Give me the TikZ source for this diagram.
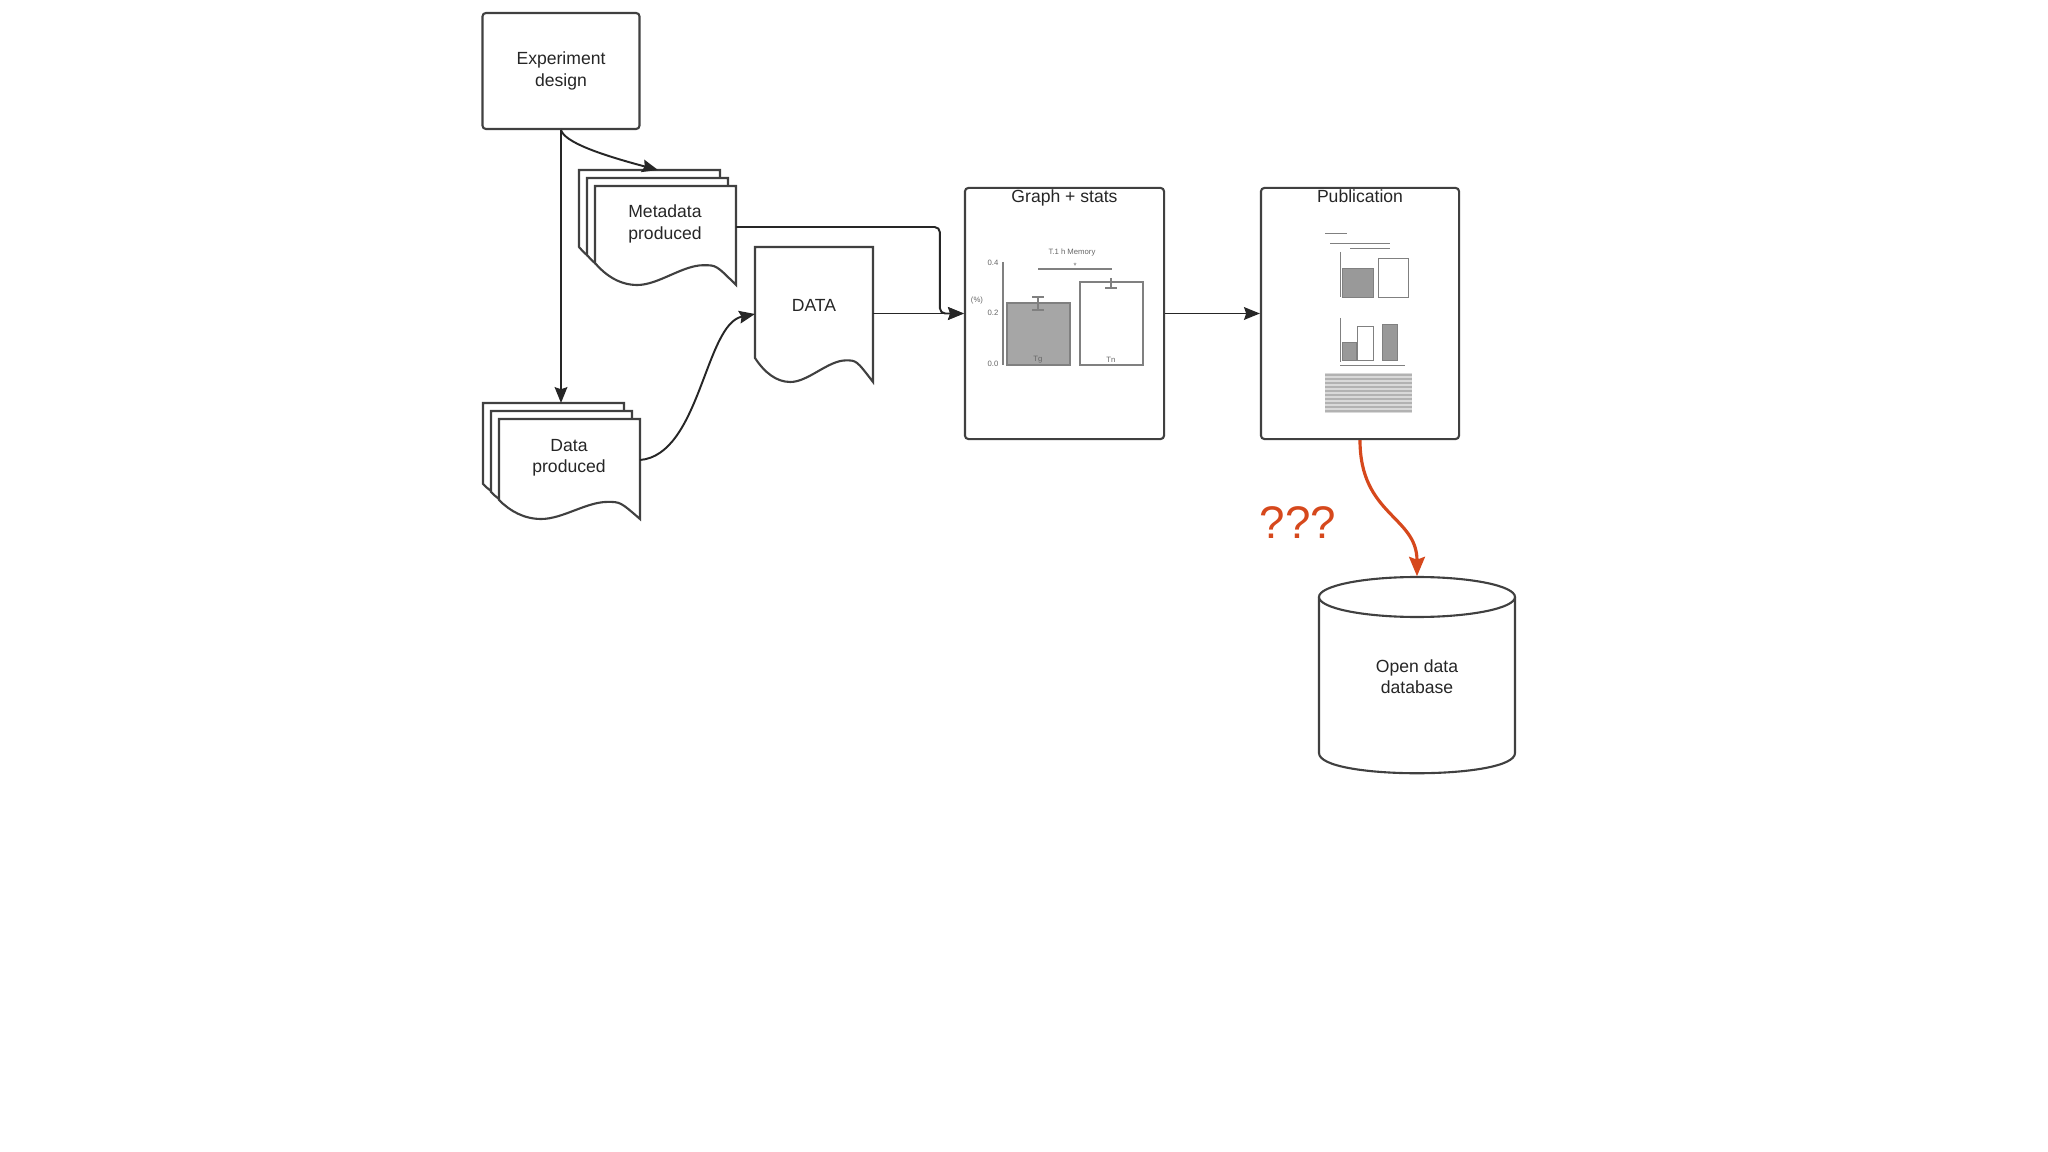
\documentclass[tikz,border=0pt]{standalone}
\usepackage{fontspec}
\setmainfont{Liberation Sans}
\usepackage{xcolor}
\usepackage{tikz}
\usetikzlibrary{arrows.meta}

\definecolor{oddred}{RGB}{214,72,28}

% document sheet with a wavy lower edge: x, y (top left), width, left height, wave depth
\newcommand{\docshape}[5]{%
  \draw[docline] ({#1},{#2}) -- ({#1+#3},{#2}) -- ({#1+#3},{#2+#4+#5})
    .. controls ({#1+0.86*#3},{#2+#4+0.1*#5}) .. ({#1+0.77*#3},{#2+#4+0.1*#5})
    .. controls ({#1+0.62*#3},{#2+#4+0.1*#5}) and ({#1+0.45*#3},{#2+#4+#5}) .. ({#1+0.3*#3},{#2+#4+#5})
    .. controls ({#1+0.18*#3},{#2+#4+#5}) and ({#1+0.08*#3},{#2+#4+0.6*#5}) .. ({#1},{#2+#4}) -- cycle;}

\tikzset{
  box/.style={draw=black!75, line width=0.6pt, rounded corners=1pt, fill=white},
  docline/.style={draw=black!75, line width=0.6pt, fill=white},
  lbl/.style={align=center, font=\fontsize{5}{6}\selectfont, text=black!85, inner sep=0.5pt},
  conn/.style={draw=black!85, line width=0.55pt, -{Stealth[length=4.5pt, width=3.6pt, inset=0.6pt]}},
  redconn/.style={draw=oddred, line width=0.9pt, -{Stealth[length=5.5pt, width=4.5pt, inset=0.8pt]}},
  tinytext/.style={font=\fontsize{2.2}{2.6}\selectfont, text=black!60, inner sep=0pt},
  plot/.style={draw=black!50, line width=0.3pt},
}

\begin{document}
\begin{tikzpicture}[x=0.01cm, y=-0.01cm]
        \useasboundingbox (0,0) rectangle (2048,1152);
        \fill[white] (0,0) rectangle (2048,1152);

        % boxes
        \node[box, lbl, minimum width=1.57cm, minimum height=1.16cm] (exp) at (561,71) {Experiment\\design};
        \node[box, minimum width=1.99cm, minimum height=2.51cm] (graph) at (1064.5,313.5) {};
        \node[box, minimum width=1.98cm, minimum height=2.51cm] (pub) at (1360,313.5) {};
        \node[lbl, anchor=north] (graphtitle) at (graph.north) {Graph + stats};
        \node[lbl, anchor=north] (pubtitle) at (pub.north) {Publication};

        % document stacks
        \foreach \o in {16,8,0} {\docshape{595-\o}{186-\o}{141}{77}{22}}
        \node[lbl] (meta) at (665,224) {Metadata\\produced};
        \coordinate (metatop) at (658,170);
        \coordinate (metaright) at (736,227);

        \docshape{755}{247}{118}{111}{24}
        \node[lbl] (data) at (814,305) {DATA};
        \coordinate (datain) at (755,314);
        \coordinate (dataout) at (873,313.5);

        \foreach \o in {16,8,0} {\docshape{499-\o}{419-\o}{141}{81}{19}}
        \node[lbl] (dprod) at (569,458) {Data\\produced};
        \coordinate (dprodtop) at (561,403);
        \coordinate (dprodright) at (640,460);

        % database
        \draw[docline] (1319,597) -- (1319,753) .. controls (1319,780) and (1515,780) .. (1515,753) -- (1515,597);
        \draw[docline] (1417,597) ellipse [x radius=98, y radius=20];
        \node[lbl, minimum width=1.96cm, minimum height=2cm] (db) at (1417,677) {Open data\\database};

        % chart in graph box
        \draw[plot] (1003,262) -- (1003,365);
        \foreach \yy/\tl in {263/0.4, 313/0.2, 364/0.0} \node[tinytext, anchor=east] at (999,\yy) {\tl};
        \node[tinytext] at (977,301) {(\%)};
        \draw[plot, fill=black!35] (1007,303) rectangle (1070,365);
        \draw[plot] (1080,282) rectangle (1143,365);
        \draw[plot] (1038,297) -- (1038,310) (1032,297) -- (1044,297) (1032,310) -- (1044,310);
        \draw[plot] (1111,278) -- (1111,288) (1105,288) -- (1117,288);
        \draw[plot] (1038,269) -- (1112,269);
        \node[tinytext] at (1075,266) {*};
        \node[tinytext] at (1072,253) {T.1 h Memory};
        \node[tinytext] at (1038,360) {Tg};
        \node[tinytext] at (1111,360) {Tn};

        % page thumbnail in publication box
        \draw[plot, line width=0.2pt] (1325,233) -- (1347,233) (1330,243) -- (1390,243) (1350,248) -- (1390,248);
        \draw[plot, line width=0.2pt] (1340,252) -- (1340,297) (1340,318) -- (1340,362) (1340,365) -- (1405,365);
        \draw[plot, line width=0.2pt, fill=black!40] (1342,268) rectangle (1373,297);
        \draw[plot, line width=0.2pt] (1378,258) rectangle (1408,297);
        \draw[plot, line width=0.2pt, fill=black!40] (1342,342) rectangle (1356,360);
        \draw[plot, line width=0.2pt] (1357,326) rectangle (1373,360);
        \draw[plot, line width=0.2pt, fill=black!40] (1382,324) rectangle (1397,360);
        \fill[black!15] (1325,373) rectangle (1412,413);
        \foreach \ty in {375,379,...,411} \draw[black!30, line width=0.4pt] (1325,\ty) -- (1412,\ty);

        % connectors
        \draw[conn] (exp.south) -- (dprodtop);
        \draw[conn] (exp.south) .. controls +(4,12) and +(-60,-16) .. (metatop);
        \draw[conn, rounded corners=1.5pt] (metaright) -| ([xshift=-0.24cm]graph.west) -- (graph.west);
        \draw[conn] (dataout) -- (graph.west);
        \draw[conn] (dprodright) .. controls +(60,-5) and +(-50,10) .. (datain);
        \draw[conn] (graph.east) -- (pub.west);
        \draw[redconn] (pub.south) .. controls +(0,75) and +(0,-60) .. (db.north);
        \node[font=\fontsize{13}{15}\selectfont, text=oddred] (qq) at (1298,523) {???};
    \end{tikzpicture}
\end{document}
